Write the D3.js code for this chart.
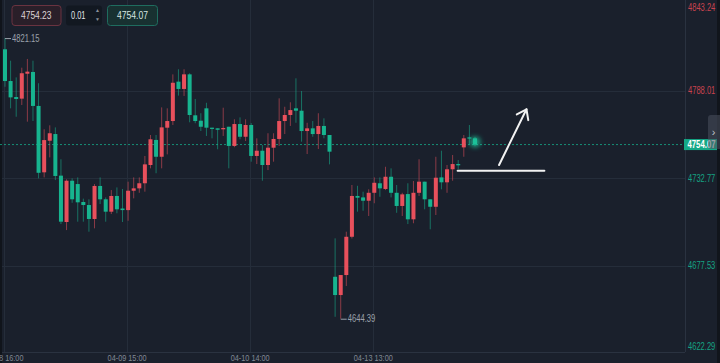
<!DOCTYPE html>
<html>
<head>
<meta charset="utf-8">
<script src="https://cdn.jsdelivr.net/npm/d3@7/dist/d3.min.js"></script>
<style>
  html, body { margin: 0; padding: 0; background: #1a202c; }
  svg { display: block; }
  text { font-family: "Liberation Sans", Arial, sans-serif; }
</style>
</head>
<body>
<svg id="chart"></svg>
<script>
// hourly candles (green = down, red = up)
const opens = [4814.1, 4794.1, 4784.0, 4783.0, 4798.7, 4799.8, 4778.4, 4736.6, 4756.5, 4760.7,
  4734.5, 4705.3, 4731.3, 4729.2, 4717.9, 4716.0, 4707.2, 4728.0, 4719.6, 4711.8,
  4721.7, 4713.8, 4712.8, 4725.0, 4726.5, 4729.7, 4741.2, 4757.0, 4746.4, 4764.7,
  4768.9, 4793.7, 4789.1, 4798.3, 4772.5, 4769.1, 4776.9, 4764.7, 4764.3, 4763.7,
  4765.3, 4753.2, 4767.0, 4759.0, 4766.4, 4746.9, 4750.2, 4741.2, 4752.1, 4757.6,
  4768.9, 4772.7, 4776.9, 4775.4, 4762.6, 4764.3, 4760.7, 4765.8, 4760.1, 4670.8,
  4659.3, 4671.9, 4696.0, 4721.7, 4720.8, 4718.7, 4723.7, 4729.7, 4726.1, 4733.8,
  4723.7, 4715.4, 4722.9, 4707.0, 4723.7, 4730.7, 4719.6, 4714.9, 4733.4, 4730.3,
  4738.5, 4741.8, 4752.3, 4758.6, 4758.0];
const highs = [4821.15, 4806.9, 4796.4, 4802.5, 4808.0, 4806.9, 4792.7, 4763.7, 4766.2, 4764.9,
  4744.8, 4732.2, 4732.8, 4733.4, 4720.0, 4719.6, 4729.2, 4733.4, 4720.8, 4725.4,
  4727.1, 4726.1, 4730.7, 4733.4, 4733.4, 4746.9, 4760.1, 4760.1, 4777.5, 4776.9,
  4798.3, 4801.5, 4801.5, 4799.0, 4782.8, 4773.8, 4780.4, 4764.7, 4764.3, 4777.3,
  4765.3, 4770.0, 4771.2, 4770.0, 4767.6, 4758.0, 4753.8, 4761.2, 4761.2, 4783.2,
  4777.9, 4780.7, 4795.8, 4787.8, 4767.8, 4768.9, 4773.8, 4770.6, 4760.1, 4695.0,
  4671.9, 4699.2, 4728.6, 4728.1, 4724.4, 4725.9, 4733.4, 4733.4, 4740.1, 4739.1,
  4728.6, 4723.7, 4729.7, 4731.1, 4744.8, 4730.7, 4719.6, 4746.4, 4750.2, 4741.2,
  4747.5, 4744.3, 4760.1, 4766.4, 4758.9];
const lows = [4790.5, 4776.9, 4771.6, 4779.0, 4768.5, 4768.9, 4732.8, 4733.4, 4746.0, 4731.7,
  4704.0, 4700.2, 4717.4, 4705.5, 4705.5, 4699.2, 4701.3, 4716.6, 4705.5, 4710.3,
  4710.8, 4705.3, 4706.1, 4720.2, 4723.7, 4724.4, 4739.1, 4736.0, 4739.1, 4747.9,
  4766.4, 4784.9, 4784.7, 4768.1, 4767.5, 4762.6, 4759.5, 4758.0, 4751.1, 4759.5,
  4739.1, 4752.4, 4757.4, 4756.3, 4743.3, 4741.8, 4731.3, 4738.0, 4743.3, 4753.2,
  4760.7, 4765.8, 4767.8, 4755.9, 4748.1, 4759.0, 4751.3, 4758.0, 4741.6, 4645.6,
  4644.39, 4665.0, 4694.9, 4711.8, 4712.4, 4709.1, 4717.1, 4721.2, 4725.4, 4720.8,
  4711.1, 4709.1, 4704.0, 4704.5, 4721.7, 4713.3, 4700.7, 4709.7, 4725.9, 4723.7,
  4731.3, 4738.5, 4746.4, 4754.4, 4753.1];
const closes = [4794.1, 4783.8, 4782.8, 4799.0, 4800.0, 4778.4, 4736.3, 4756.9, 4761.2, 4734.3,
  4705.5, 4731.3, 4719.6, 4717.7, 4716.0, 4707.2, 4728.0, 4719.6, 4711.8, 4721.7,
  4713.3, 4712.8, 4725.0, 4726.5, 4729.7, 4741.6, 4757.4, 4746.4, 4764.9, 4768.9,
  4793.0, 4789.1, 4798.3, 4772.7, 4768.9, 4765.3, 4764.7, 4764.1, 4763.4, 4764.5,
  4753.2, 4767.0, 4759.0, 4766.4, 4746.9, 4750.2, 4741.2, 4752.1, 4757.6, 4768.9,
  4772.7, 4775.8, 4775.4, 4762.6, 4764.3, 4760.7, 4765.8, 4760.1, 4749.6, 4659.3,
  4671.9, 4696.0, 4721.7, 4720.6, 4718.7, 4723.7, 4730.0, 4726.5, 4733.8, 4723.7,
  4715.4, 4722.7, 4707.0, 4723.7, 4730.7, 4719.6, 4714.9, 4733.2, 4730.3, 4738.5,
  4741.8, 4741.0, 4758.0, 4758.0, 4754.07];

const priceTicks = [4843.24, 4788.01, 4732.77, 4677.53, 4622.29];
const timeTicks = [0, 22, 44, 66];
const timeLabels = ["04-08 16:00", "04-09 15:00", "04-10 14:00", "04-13 13:00"];
const lastPrice = 4754.07;
const askPrice = 4754.23;
const lotSize = "0.01";
const maxMark = { i: 0, v: 4821.15 };
const minMark = { i: 60, v: 4644.39 };
// hand-drawn support line and arrow, in candle index / price units
const supportLine = [[80.9, 4737.6], [96.4, 4737.6]];
const arrowLine = [[88.3, 4741.2], [93.2, 4776.3]];

const width = 720;
const height = 363;
const plotRight = 685;
const plotBottom = 352;

const up = "#e8505c";
const down = "#17b48f";
const bg = "#1a202c";
const gridColor = "#252d3a";

const candles = opens.map((o, i) => ({ i, o, h: highs[i], l: lows[i], c: closes[i] }));

const x = d3.scaleLinear().domain([0, 84]).range([5, 475]);
const y = d3.scaleLinear().domain([4622.29, 4843.24]).range([353.8, 3.0]);

// the platform font is narrow; squeeze text to the measured widths
function fit(sel, w) {
  return sel.attr("textLength", w).attr("lengthAdjust", "spacingAndGlyphs");
}

const svg = d3.select("#chart")
  .attr("width", width)
  .attr("height", height)
  .style("background", bg);

const defs = svg.append("defs");
defs.append("filter").attr("id", "glow")
  .attr("x", "-3").attr("y", "-3").attr("width", "7").attr("height", "7")
  .append("feGaussianBlur").attr("stdDeviation", 2.8);
defs.append("clipPath").attr("id", "plot")
  .append("rect").attr("x", 0).attr("y", 0).attr("width", plotRight).attr("height", plotBottom);

// grid
const grid = svg.append("g");
grid.selectAll("line.h")
  .data(priceTicks.slice(1, 4))
  .join("line")
  .attr("x1", 0).attr("x2", plotRight)
  .attr("y1", d => Math.round(y(d)) + 0.5).attr("y2", d => Math.round(y(d)) + 0.5)
  .attr("stroke", gridColor);
grid.selectAll("line.v")
  .data(timeTicks)
  .join("line")
  .attr("x1", d => Math.round(x(d) - 1.5) + 0.5).attr("x2", d => Math.round(x(d) - 1.5) + 0.5)
  .attr("y1", 0).attr("y2", plotBottom)
  .attr("stroke", gridColor);

// axis frame
svg.append("line")
  .attr("x1", plotRight + 0.5).attr("x2", plotRight + 0.5)
  .attr("y1", 0).attr("y2", plotBottom)
  .attr("stroke", "#2a3240");
svg.append("line")
  .attr("x1", 0).attr("x2", plotRight)
  .attr("y1", plotBottom + 0.5).attr("y2", plotBottom + 0.5)
  .attr("stroke", "#2a3240");
svg.append("rect").attr("x", 0).attr("y", 0).attr("width", 2).attr("height", height).attr("fill", "#10141b");
svg.append("rect").attr("x", 717).attr("y", 0).attr("width", 3).attr("height", height).attr("fill", "#11151c");

// last price line
svg.append("line")
  .attr("x1", 0).attr("x2", plotRight)
  .attr("y1", y(lastPrice)).attr("y2", y(lastPrice))
  .attr("stroke", down).attr("stroke-opacity", 0.75)
  .attr("stroke-dasharray", "2,2");

// candles
const plot = svg.append("g").attr("clip-path", "url(#plot)");
const col = d => d.c >= d.o ? up : down;

plot.selectAll("line.wick")
  .data(candles)
  .join("line")
  .attr("x1", d => x(d.i)).attr("x2", d => x(d.i))
  .attr("y1", d => y(d.h)).attr("y2", d => y(d.l))
  .attr("stroke", col).attr("stroke-opacity", 0.55).attr("stroke-width", 1);

plot.selectAll("rect.body")
  .data(candles)
  .join("rect")
  .attr("x", d => x(d.i) - 2)
  .attr("width", 4)
  .attr("y", d => y(Math.max(d.o, d.c)))
  .attr("height", d => Math.max(1.2, Math.abs(y(d.o) - y(d.c))))
  .attr("fill", col);

// glow on the live candle
const last = candles[candles.length - 1];
plot.append("circle")
  .attr("cx", x(last.i)).attr("cy", (y(last.o) + y(last.c)) / 2 + 0.5)
  .attr("r", 5.5)
  .attr("fill", "#1fc99f").attr("opacity", 0.75)
  .attr("filter", "url(#glow)");

// max / min markers
const markColor = "#9aa0aa";
[maxMark, minMark].forEach(m => {
  const mx = x(m.i), my = y(m.v);
  svg.append("line")
    .attr("x1", mx).attr("x2", mx + 6)
    .attr("y1", my + 0.5).attr("y2", my + 0.5)
    .attr("stroke", markColor);
  fit(svg.append("text")
    .attr("x", mx + 7).attr("y", my + 1)
    .attr("dominant-baseline", "middle")
    .attr("font-size", 10)
    .attr("fill", markColor)
    .text(m.v.toFixed(2)), 27.5);
});

// annotations
const ann = svg.append("g").attr("stroke", "#f2f2f2").attr("stroke-width", 2).attr("fill", "none")
  .attr("stroke-linecap", "round");
ann.append("line")
  .attr("x1", x(supportLine[0][0])).attr("x2", x(supportLine[1][0]))
  .attr("y1", y(supportLine[0][1])).attr("y2", y(supportLine[1][1]));
const ax1 = x(arrowLine[0][0]), ay1 = y(arrowLine[0][1]);
const ax2 = x(arrowLine[1][0]), ay2 = y(arrowLine[1][1]);
ann.append("line").attr("x1", ax1).attr("y1", ay1).attr("x2", ax2).attr("y2", ay2);
const back = Math.atan2(ay1 - ay2, ax1 - ax2);
const headLen = 11;
const head = [back - 0.62, back + 0.62].map(a => [ax2 + headLen * Math.cos(a), ay2 + headLen * Math.sin(a)]);
ann.append("path")
  .attr("d", `M${head[0][0]},${head[0][1]}L${ax2},${ay2}L${head[1][0]},${head[1][1]}`)
  .attr("stroke-linejoin", "round");

// right price axis
fit(svg.selectAll("text.ptick")
  .data(priceTicks)
  .join("text")
  .attr("x", 688)
  .attr("y", d => Math.min(347, Math.max(8, y(d))) + 0.5)
  .attr("dominant-baseline", "middle")
  .attr("font-size", 10)
  .attr("fill", d => d > lastPrice ? "#c9434f" : "#15a283")
  .text(d => d.toFixed(2)), 27.3);

svg.append("rect")
  .attr("x", 684).attr("y", y(lastPrice) - 5.5)
  .attr("width", 33).attr("height", 11)
  .attr("fill", "#14a987");
fit(svg.append("text")
  .attr("x", 687.5).attr("y", y(lastPrice) + 0.5)
  .attr("dominant-baseline", "middle")
  .attr("font-size", 10)
  .attr("font-weight", "bold")
  .attr("fill", "#ffffff")
  .text(lastPrice.toFixed(2)), 28);

// collapse tab
svg.append("path")
  .attr("d", "M720,115 L711,115 Q708,115 708,118 L708,146 Q708,149 711,149 L720,149 Z")
  .attr("fill", "#4a515e").attr("opacity", 0.55);
svg.append("text")
  .attr("x", 713.5).attr("y", 133)
  .attr("text-anchor", "middle").attr("dominant-baseline", "middle")
  .attr("font-size", 11).attr("fill", "#c0c4cc")
  .text("›");

// time axis
fit(svg.selectAll("text.ttick")
  .data(timeTicks)
  .join("text")
  .attr("x", d => x(d) - 20.5)
  .attr("y", 358)
  .attr("dominant-baseline", "middle")
  .attr("font-size", 9.5)
  .attr("fill", "#808894")
  .text((d, i) => timeLabels[i]), 39);

// order boxes
const boxes = svg.append("g");
boxes.append("rect")
  .attr("x", 12).attr("y", 5.5).attr("width", 49).attr("height", 20).attr("rx", 3)
  .attr("fill", "#2a1f29").attr("stroke", "#6a3340");
fit(boxes.append("text")
  .attr("x", 21).attr("y", 16)
  .attr("dominant-baseline", "middle")
  .attr("font-size", 10.5).attr("fill", "#dcd3d5")
  .text(askPrice.toFixed(2)), 30.5);
boxes.append("rect")
  .attr("x", 66).attr("y", 5.5).attr("width", 36).attr("height", 20).attr("rx", 3)
  .attr("fill", "#121821");
fit(boxes.append("text")
  .attr("x", 71).attr("y", 16)
  .attr("dominant-baseline", "middle")
  .attr("font-size", 10.5).attr("fill", "#e2e4e8")
  .text(lotSize), 14.5);
boxes.append("text")
  .attr("x", 97.5).attr("y", 11)
  .attr("text-anchor", "middle").attr("dominant-baseline", "middle")
  .attr("font-size", 5).attr("fill", "#8a909a")
  .text("▲");
boxes.append("text")
  .attr("x", 97.5).attr("y", 20)
  .attr("text-anchor", "middle").attr("dominant-baseline", "middle")
  .attr("font-size", 5).attr("fill", "#8a909a")
  .text("▼");
boxes.append("rect")
  .attr("x", 107.5).attr("y", 5.5).attr("width", 50).attr("height", 20).attr("rx", 3)
  .attr("fill", "#183131").attr("stroke", "#1f6d5f");
fit(boxes.append("text")
  .attr("x", 117).attr("y", 16)
  .attr("dominant-baseline", "middle")
  .attr("font-size", 10.5).attr("fill", "#d6e4e0")
  .text(lastPrice.toFixed(2)), 31);
</script>
</body>
</html>
